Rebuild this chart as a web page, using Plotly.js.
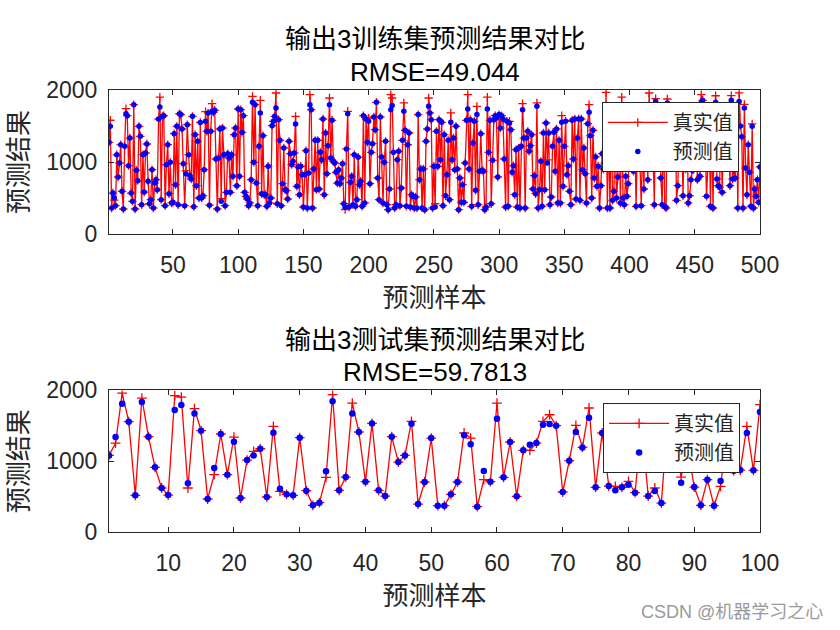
<!DOCTYPE html>
<html><head><meta charset="utf-8">
<script src="https://cdn.plot.ly/plotly-3.0.1.min.js"></script>
<style>html,body{margin:0;padding:0;background:#fff;}#chart{width:840px;height:630px;}</style>
</head><body><div id="chart"></div>
<script>
const trainPred = [
1273,1495,361,569,500,394,1100,792,986,1241,
593,347,1218,1671,1644,949,1333,569,454,1796,
347,884,741,1495,1357,407,1102,583,1125,1250,
732,420,477,894,361,708,755,616,1597,1764,
477,1634,1644,394,963,1241,560,995,431,440,
1394,685,1495,407,1671,1658,1458,977,394,838,
1519,1102,810,764,1634,380,1380,671,1287,500,
1550,500,532,894,1565,1426,1681,400,
1426,1704,1690,1718,1042,347,1056,1458,454,1472,
1102,394,579,1116,1056,579,1102,801,1380,1472,
671,1736,801,1727,1412,1644,579,523,486,394,
431,755,1829,995,1796,708,394,1218,1681,560,
1366,546,546,384,940,431,500,1505,1565,1634,
1750,420,1588,1301,394,699,1195,616,602,486,
1287,1116,963,1009,1125,1528,662,931,546,940,
824,375,824,1158,361,847,1796,1727,361,903,
1301,616,
1301,625,1134,1032,1597,546,1403,838,1227,1796,
1056,1579,1009,986,857,708,894,699,778,977,
421,370,1181,1671,375,718,801,407,1102,384,
477,1065,685,732,384,1644,431,1597,1273,1565,
699,1134,1255,1625,1449,1829,778,477,1625,1070,
431,995,1287,407,338,625,1727,1783,1134,361,
407,1032,1148,394,639,1301,1704,1440,384,1241,
1403,375,546,523,361,514,361,1658,755,
903,361,903,338,1287,1458,1773,1681,1588,361,
940,375,1426,940,1588,1032,1551,394,1380,532,
824,1301,477,1551,1032,1333,894,1495,903,338,
778,440,685,440,986,1579,1736,903,1588,384,
1264,1565,607,1658,407,870,1394,884,870,338,
375,1736,1134,1579,421,1023,1588,1644,1611,792,
1658,1472,1644,1597,1042,375,1565,384,1542,1449,
857,949,546,1171,375,1195,361,1218,1727,1333,
361,1333,1426,1148,1227,1380,625,810,560,1773,
361,616,1009,384,1403,616,1542,986,1403,407,
514,1218,1412,870,1458,431,1301,431,1551,662,
1218,1565,824,949,593,407,1579,1042,1597,486,
1333,1597,468,1597,894,1195,838,431,1532,1690,
1366,500,1440,778,1070,662,940,361,671,1116,
903,986,1800,361,1500,361,1650,468,593,1400,
500,792,1750,431,1750,500,407,801,523,699,
1500,1300,1600,870,1450,384,1200,1650,940,394,
1350,625,1550,1250,755,1800,1400,1700,1150,407,
1843,1300,1600,1450,778,407,1550,384,361,1820,
1350,1650,1200,931,1500,1750,468,671,1400,1600,
1300,532,1450,903,1700,431,532,755,884,894,
1550,1350,755,1600,801,1820,1857,1450,1250,523,
931,1700,384,1500,361,1650,1830,764,671,653,
1550,579,1400,1700,1300,1600,1450,671,1857,764,
894,778,1650,361,1840,1500,1350,
361,1750,917,546,1241,857,384,1495,361,625,523,755,440,931
];
const trainTrue = [
1273,1580,361,569,470,394,1100,792,986,1241,
593,347,1218,1740,1644,949,1333,569,454,1796,
347,884,741,1495,1357,407,1102,583,1125,1250,
732,420,477,894,361,708,755,616,1597,1900,
477,1634,1644,394,963,1241,560,995,431,440,
1394,685,1495,407,1671,1658,1458,977,394,880,
1519,1102,810,764,1634,380,1380,671,1287,500,
1550,500,532,894,1700,1426,1681,400,
1426,1810,1690,1718,1042,347,1056,1458,490,1472,
1102,394,579,1116,1056,579,1102,801,1380,1472,
671,1736,801,1727,1412,1644,579,523,486,394,
431,755,1912,995,1796,708,394,1218,1857,560,
1366,546,546,384,940,431,500,1505,1565,1634,
1958,420,1588,1301,394,699,1195,616,602,486,
1287,1116,963,1009,1125,1634,662,931,546,940,
824,375,824,1158,361,847,1935,1727,361,903,
1301,616,
1301,625,1134,1032,1597,546,1403,838,1227,1889,
1056,1579,1009,986,857,708,894,699,778,977,
421,340,1181,1704,375,718,801,407,1102,384,
477,1065,685,732,384,1644,431,1597,1273,1610,
699,1134,1255,1625,1449,1829,778,477,1625,1070,
431,995,1287,407,338,625,1935,1889,1134,361,
407,1032,1148,394,639,1301,1820,1440,384,1241,
1403,375,546,523,361,514,361,1658,755,
903,361,903,338,1287,1458,1889,1681,1588,361,
940,420,1426,940,1588,1032,1551,394,1380,532,
824,1301,477,1681,1032,1333,894,1495,903,338,
778,440,685,440,986,1579,1935,903,1588,384,
1264,1565,607,1773,407,870,1394,884,870,338,
375,1900,1134,1579,421,1023,1588,1644,1611,792,
1658,1472,1644,1597,1042,375,1565,384,1565,1449,
857,949,546,1171,375,1195,361,1218,1810,1333,
361,1333,1426,1148,1227,1380,625,810,560,1820,
361,616,1009,384,1403,616,1542,1030,1403,407,
514,1218,1412,870,1458,431,1301,431,1644,662,
1218,1565,824,949,593,407,1579,1042,1597,486,
1333,1597,468,1597,894,1195,838,431,1532,1796,
1366,500,1440,778,1070,662,940,361,671,1116,
903,986,1968,361,1500,361,1650,468,593,1400,
500,792,1750,431,1900,500,407,801,523,699,
1500,1300,1600,870,1450,384,1200,1650,940,394,
1350,625,1550,1250,755,1958,1400,1700,1150,407,
1880,1300,1600,1450,778,407,1550,384,361,1875,
1350,1650,1200,931,1500,1750,468,671,1400,1600,
1300,532,1450,903,1700,431,532,755,884,894,
1550,1350,755,1600,801,1935,1857,1450,1250,523,
931,1700,384,1500,361,1650,1920,764,671,653,
1550,579,1400,1700,1300,1600,1450,671,1921,764,
894,778,1650,361,1960,1500,1350,
361,1800,917,546,1241,857,384,1530,361,625,523,755,440,931
];
const testPred = [
1082,1341,1812,1558,518,1835,1346,913,621,522,
1722,1793,687,1675,1431,466,904,1384,809,1275,
480,1016,1082,1176,494,1402,612,532,518,1332,
584,376,414,857,1845,588,776,1675,1412,711,
1534,588,508,1346,988,1082,1529,395,706,1327,
372,372,532,706,1365,1238,358,861,711,1600,
772,1271,504,1153,1233,1256,1515,1525,1501,565,
1007,1412,1195,1614,631,1398,649,588,631,668,
555,1500,508,579,409,1600,1300,696,1200,635,
376,739,372,720,1400,866,875,1398,871,1694
];
const testTrue = [
1082,1256,1962,1558,518,1892,1346,913,621,522,
1925,1906,621,1741,1431,466,809,1384,809,1341,
480,1016,1139,1176,494,1492,574,532,518,1332,
584,376,414,772,1939,588,776,1821,1412,711,
1534,588,508,1346,988,1082,1562,395,706,1327,
372,372,532,706,1398,1327,358,739,711,1821,
772,1271,504,1153,1153,1256,1562,1656,1501,565,
1007,1506,1195,1751,631,1398,649,645,631,715,
555,1520,508,621,409,1650,1300,776,1200,635,
376,739,372,645,1400,866,875,1492,871,1798
];
const trainTicks = [50,100,150,200,250,300,350,400,450,500];
const testTicks = [10,20,30,40,50,60,70,80,90,100];
const yTicks = [0,1000,2000];
const seriesNames = ['真实值','预测值'];
const titles = ['输出3训练集预测结果对比','RMSE=49.044','输出3测试集预测结果对比','RMSE=59.7813'];
const xLabel = '预测样本', yLabel = '预测结果';

const trainIdx = trainPred.map((_, i) => i + 1);
const testIdx = testPred.map((_, i) => i + 1);

const FONT = 'Liberation Sans, Arial, Noto Sans CJK SC, sans-serif';
const INK = '#262626';

function trueTrace(x, y, xa, ya, lg, sz) {
  return {x, y, xaxis: xa, yaxis: ya, legend: lg, name: seriesNames[0], type: 'scatter', mode: 'lines+markers',
    line: {color: '#ff0000', width: 1.3},
    marker: {symbol: 'cross-thin', size: sz, color: '#ff0000', line: {color: '#ff0000', width: 1.3}}};
}
function predTrace(x, y, xa, ya, lg, sz) {
  return {x, y, xaxis: xa, yaxis: ya, legend: lg, name: seriesNames[1], type: 'scatter', mode: 'markers',
    marker: {symbol: 'circle', size: sz, color: '#0000ff'}};
}

const data = [
  trueTrace(trainIdx, trainTrue, 'x', 'y', 'legend', 6),
  predTrace(trainIdx, trainPred, 'x', 'y', 'legend', 5.5),
  trueTrace(testIdx, testTrue, 'x2', 'y2', 'legend2', 7),
  predTrace(testIdx, testPred, 'x2', 'y2', 'legend2', 6.5)
];

function xAxis(range, ticks, anchor) {
  return {domain: [0, 1], anchor, range, tickvals: ticks, ticks: 'inside', ticklen: 5, tickwidth: 1,
    tickcolor: INK, showline: true, mirror: 'ticks', linecolor: INK, linewidth: 1, showgrid: false,
    zeroline: false, tickfont: {family: FONT, size: 23, color: INK}, ticklabelstandoff: 10,
    title: {text: xLabel, font: {family: FONT, size: 26, color: INK}, standoff: 12}};
}
function yAxis(domain, anchor) {
  return {domain, anchor, range: [0, 2000], tickvals: yTicks, ticks: 'inside', ticklen: 5, tickwidth: 1,
    tickcolor: INK, showline: true, mirror: 'ticks', linecolor: INK, linewidth: 1, showgrid: false,
    zeroline: false, tickfont: {family: FONT, size: 23, color: INK}, ticklabelstandoff: 6,
    title: {text: yLabel, font: {family: FONT, size: 26, color: INK}, standoff: 10}};
}
const legendStyle = (x, y) => ({x, y, xanchor: 'left', yanchor: 'top', bgcolor: '#ffffff',
  bordercolor: INK, borderwidth: 1, font: {family: FONT, size: 20, color: INK}, itemwidth: 60,
  tracegroupgap: 0});

const ann = (text, y, size) => ({text, xref: 'paper', yref: 'paper', x: 0.5, y, xanchor: 'center',
  yanchor: 'middle', showarrow: false, font: {family: FONT, size, color: '#000000'}});

const layout = {
  width: 840, height: 630, paper_bgcolor: '#ffffff', plot_bgcolor: '#ffffff',
  margin: {l: 109, r: 80, t: 90, b: 98, pad: 0},
  showlegend: true,
  xaxis: xAxis([1, 500], trainTicks, 'y'),
  yaxis: yAxis([0.6742, 1], 'x'),
  xaxis2: xAxis([1, 100], testTicks, 'y2'),
  yaxis2: yAxis([0, 0.3204], 'x2'),
  legend: legendStyle(0.757, 0.973),
  legend2: legendStyle(0.759, 0.292),
  annotations: [
    ann(titles[0], 1.116, 26),
    ann(titles[1], 1.041, 26),
    ann(titles[2], 0.435, 26),
    ann(titles[3], 0.363, 26),
    {text: 'CSDN @机器学习之心', xref: 'paper', yref: 'paper', x: 1.0998, y: -0.181, xanchor: 'right',
     yanchor: 'middle', showarrow: false, font: {family: FONT, size: 18, color: '#9a9a9a'}}
  ]
};

Plotly.newPlot('chart', data, layout, {displayModeBar: false, staticPlot: true});
</script></body></html>
